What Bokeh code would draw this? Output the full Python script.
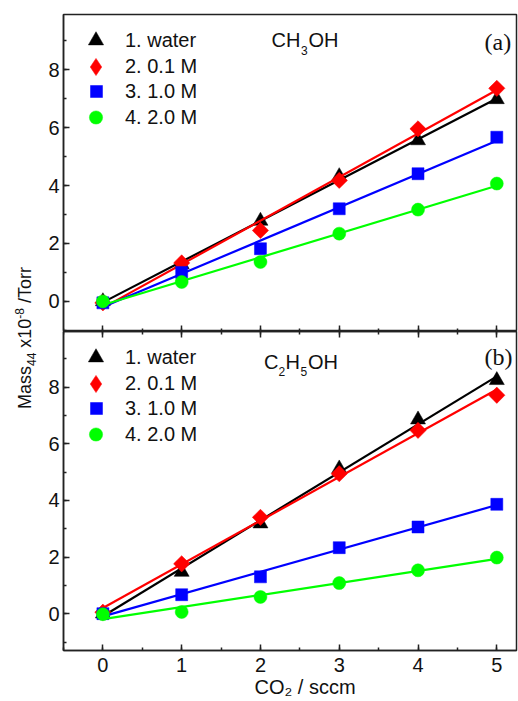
import numpy as np
from bokeh.plotting import figure
from bokeh.models import (Range1d, LinearAxis, SingleIntervalTicker, Label, Legend,
                          LegendItem, CustomJSTickFormatter, Div)
from bokeh.layouts import row, column
from bokeh.embed import file_html
from bokeh.resources import INLINE

# ---------------- data ----------------
co2_sccm = [0, 1, 2, 3, 4, 5]
series_labels = ["1. water", "2. 0.1 M", "3. 1.0 M", "4. 2.0 M"]

# panel (a) CH3OH
ch3oh_water = [0.00, 1.28, 2.78, 4.32, 5.56, 6.98]
ch3oh_01M = [-0.05, 1.33, 2.45, 4.18, 5.96, 7.36]
ch3oh_10M = [-0.05, 1.00, 1.82, 3.20, 4.41, 5.67]
ch3oh_20M = [0.00, 0.67, 1.36, 2.34, 3.17, 4.07]

# panel (b) C2H5OH
c2h5oh_water = [0.00, 1.47, 3.18, 5.12, 6.85, 8.24]
c2h5oh_01M = [0.05, 1.76, 3.40, 4.94, 6.47, 7.71]
c2h5oh_10M = [0.00, 0.67, 1.30, 2.33, 3.06, 3.86]
c2h5oh_20M = [-0.02, 0.06, 0.59, 1.08, 1.53, 1.98]

x_label = "\u2003\u2002CO\u2082 / sccm"

# ---------------- style ----------------
FONT = "Liberation Sans"
SERIF = "Liberation Serif"
COLORS = ["#000000", "#ff0000", "#0000ff", "#00ff00"]
MARKERS = [("triangle", 15, 0.0), ("square", 11.5, np.pi / 4), ("square", 12, 0.0), ("circle", 13, 0.0)]
LEGEND_MARKERS = ["triangle", "diamond", "square", "circle"]
# per-row legend geometry: (margin, glyph_width, glyph_height, label_standoff)
LEGEND_ROWS = [(7, 51, 38, 4), (11, 43, 83, 8), (18, 30, 118, 14), (16, 33, 174, 13)]
AX = "#222222"
TXT = "#111111"
TICK_FS = "20px"
W = 480


def style_axis(ax, labels=True):
    ax.axis_line_width = 1.5
    ax.axis_line_color = AX
    ax.major_tick_in = 6
    ax.major_tick_out = 0
    ax.minor_tick_in = 3
    ax.minor_tick_out = 0
    ax.major_tick_line_width = 1.5
    ax.minor_tick_line_width = 1.5
    ax.major_tick_line_color = AX
    ax.minor_tick_line_color = AX
    ax.major_label_text_font = FONT
    ax.major_label_text_color = TXT
    if labels:
        ax.major_label_text_font_size = TICK_FS
    else:
        ax.formatter = CustomJSTickFormatter(code="return ''")
        ax.major_label_text_font_size = "0px"
        ax.major_label_standoff = 0


def put(p, s, x, y, size="20px", font=FONT):
    p.add_layout(Label(x=x, y=y, x_units="screen", y_units="screen", text=s,
                       text_font=font, text_font_size=size, text_baseline="middle",
                       text_align="left", text_color=TXT))


def make_panel(height, yr, b_top, b_bottom, data, top_axis, bottom_labels):
    p = figure(width=W, height=height, x_range=Range1d(-0.5, 5.25), y_range=Range1d(*yr),
               output_backend="svg", toolbar_location=None,
               x_axis_location=None, y_axis_location=None,
               min_border_left=25, min_border_right=2,
               min_border_top=b_top, min_border_bottom=b_bottom)
    p.background_fill_color = "white"
    p.border_fill_color = "white"
    p.outline_line_color = AX
    p.outline_line_width = 1.5
    p.outline_line_alpha = 1.0
    p.grid.grid_line_color = None
    p.grid.visible = False

    yax = LinearAxis(ticker=SingleIntervalTicker(interval=2, num_minor_ticks=2))
    style_axis(yax)
    yax.major_label_standoff = 4
    p.add_layout(yax, "left")

    if bottom_labels:
        xax = LinearAxis(ticker=SingleIntervalTicker(interval=1, num_minor_ticks=2))
        style_axis(xax)
        xax.major_label_standoff = 7
        xax.axis_label = x_label
        xax.axis_label_standoff = 1
        xax.axis_label_text_font = FONT
        xax.axis_label_text_font_size = "20px"
        xax.axis_label_text_font_style = "normal"
        xax.axis_label_text_color = TXT
        p.add_layout(xax, "below")
    else:
        xax = LinearAxis(ticker=SingleIntervalTicker(interval=1, num_minor_ticks=2),
                         fixed_location=yr[0])
        style_axis(xax, labels=False)
        p.add_layout(xax, "below")
    if top_axis:
        tax = LinearAxis(ticker=SingleIntervalTicker(interval=1, num_minor_ticks=2),
                         fixed_location=yr[1])
        style_axis(tax, labels=False)
        p.add_layout(tax, "above")

    xs = np.array(co2_sccm, dtype=float)
    fx = np.array([xs.min(), xs.max()])
    for ys, col, (mk, sz, ang), lab, lmk, (m, gw, gh, so) in zip(
            data, COLORS, MARKERS, series_labels, LEGEND_MARKERS, LEGEND_ROWS):
        k, b = np.polyfit(xs, np.array(ys), 1)
        p.line(fx, k * fx + b, line_color=col, line_width=2.2)
        key = None
        if lmk != mk:
            # small diamond key drawn on the same points (hidden below the symbols)
            key = p.scatter(co2_sccm, ys, marker=lmk, size=9, fill_color=col,
                            line_color=col, line_width=0.5)
        r = p.scatter(co2_sccm, ys, marker=mk, size=sz, angle=ang,
                      fill_color=col, line_color=col, line_width=0.5)
        leg = Legend(items=[LegendItem(label=lab, renderers=[key or r])], location="top_left",
                     margin=m, padding=0, spacing=0, glyph_width=gw, glyph_height=gh,
                     label_standoff=so, label_height=20,
                     label_text_font=FONT, label_text_font_size="20px",
                     label_text_color=TXT, border_line_color=None,
                     background_fill_alpha=0)
        p.add_layout(leg)
    return p


p1 = make_panel(331, (-1.04, 9.91), 14, 0,
                [ch3oh_water, ch3oh_01M, ch3oh_10M, ch3oh_20M], False, False)
p2 = make_panel(370, (-1.30, 9.96), 0, 51,
                [c2h5oh_water, c2h5oh_01M, c2h5oh_10M, c2h5oh_20M], True, True)

# panel texts (screen units relative to each frame's bottom-left corner)
put(p1, "CH", 208, 291.5)
put(p1, "3", 237.5, 281, size="12px")
put(p1, "OH", 245, 291.5)
put(p1, "(a)", 421, 290, size="24px", font=SERIF)

put(p2, "C", 200.5, 288.5)
put(p2, "2", 215, 279, size="12px")
put(p2, "H", 222, 288.5)
put(p2, "5", 237, 279, size="12px")
put(p2, "OH", 244.5, 288.5)
put(p2, "(b)", 421, 294, size="24px", font=SERIF)

ylab_html = (
    '<div style="position:relative;width:38px;height:701px;">'
    '<div style="position:absolute;left:26px;top:338px;'
    'transform:translate(-50%,-50%) rotate(-90deg);white-space:nowrap;'
    "font-family:'Liberation Sans',Arial,sans-serif;font-size:18px;color:#111;line-height:1;\">"
    'Mass<sub style="font-size:12px">44</sub> x10<sup style="font-size:12px">-8</sup> /Torr'
    '</div></div>'
)
ydiv = Div(text=ylab_html, width=38, height=701, margin=0)

layout = row(ydiv, column(p1, p2, spacing=0), spacing=0)

with open("out.html", "w") as f:
    f.write(file_html(layout, INLINE))
